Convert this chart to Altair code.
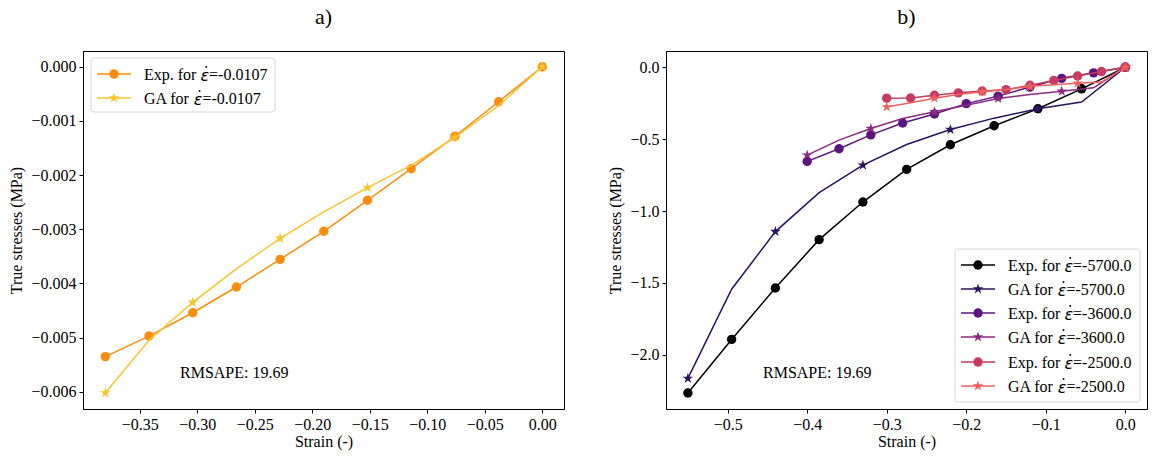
import altair as alt
import pandas as pd

FONT = "Liberation Serif"
MATH_FONT = "DejaVu Sans"

# ---------------- Panel a) data ----------------
a_strain = [-0.380, -0.342, -0.304, -0.266, -0.228, -0.190, -0.152, -0.114, -0.076, -0.038, 0.0]
a_exp = [-0.00535, -0.00497, -0.00454, -0.004065, -0.003554, -0.003037, -0.002465, -0.001882, -0.001284, -0.000646, 0.0]
a_ga = [-0.00602, -0.00505, -0.004347, -0.00373, -0.003166, -0.00268, -0.002232, -0.00182, -0.001303, -0.00072, 0.0]
a_rate = "-0.0107"

# ---------------- Panel b) data ----------------
b_strain_5700 = [-0.55, -0.495, -0.44, -0.385, -0.33, -0.275, -0.22, -0.165, -0.11, -0.055, 0.0]
b_exp_5700 = [-2.266, -1.893, -1.535, -1.199, -0.9375, -0.710, -0.539, -0.407, -0.289, -0.150, 0.0]
b_ga_5700 = [-2.164, -1.544, -1.143, -0.872, -0.681, -0.537, -0.433, -0.354, -0.289, -0.242, 0.0]

b_strain_3600 = [-0.40, -0.36, -0.32, -0.28, -0.24, -0.20, -0.16, -0.12, -0.08, -0.04, 0.0]
b_exp_3600 = [-0.655, -0.567, -0.470, -0.388, -0.325, -0.253, -0.201, -0.138, -0.077, -0.039, 0.0]
b_ga_3600 = [-0.611, -0.507, -0.426, -0.357, -0.310, -0.264, -0.217, -0.190, -0.167, -0.143, 0.0]

b_strain_2500 = [-0.30, -0.27, -0.24, -0.21, -0.18, -0.15, -0.12, -0.09, -0.06, -0.03, 0.0]
b_exp_2500 = [-0.215, -0.214, -0.195, -0.178, -0.165, -0.156, -0.125, -0.092, -0.061, -0.030, 0.0]
b_ga_2500 = [-0.276, -0.247, -0.215, -0.190, -0.171, -0.155, -0.133, -0.122, -0.112, -0.103, 0.0]

b_rates = ["-5700.0", "-3600.0", "-2500.0"]
rmsape_text = "RMSAPE: 19.69"

a_x_ticks = [-0.35, -0.30, -0.25, -0.20, -0.15, -0.10, -0.05, 0.0]
a_y_ticks = [0.0, -0.001, -0.002, -0.003, -0.004, -0.005, -0.006]
b_x_ticks = [-0.5, -0.4, -0.3, -0.2, -0.1, 0.0]
b_y_ticks = [0.0, -0.5, -1.0, -1.5, -2.0]

# colours
A_EXP = "#fd8c0e"
A_GA = "#f8c531"
B_COLORS = ["#000004", "#2a1260", "#5a167c", "#8c2981", "#c63b5f", "#f1605d"]

STAR = ("M0,-1L0.2234,-0.3074L0.9511,-0.309L0.3614,0.1174L0.5878,0.809L0,0.38"
        "L-0.5878,0.809L-0.3614,0.1174L-0.9511,-0.309L-0.2234,-0.3074Z")
MS = 88
STAR_MS = 125
FS = 16
EPS = "\u03b5"

# approximate advance widths (em) of the label prefixes in a Times-metric font
PREFIX_EM = {"Exp. for ": 3.527, "GA for ": 3.11}
EPS_EM = 0.54

W, H = 481, 358


def marker_size(shape):
    return MS if shape == "circle" else STAR_MS


def series(xs, ys, color, shape, X, Y, every=1):
    df = pd.DataFrame({"strain": xs, "stress": ys})
    line = alt.Chart(df).mark_line(color=color, strokeWidth=1.5).encode(x=X, y=Y)
    pts = alt.Chart(df.iloc[::every]).mark_point(
        filled=True, shape=shape, size=marker_size(shape), color=color, opacity=1, strokeWidth=0
    ).encode(x=X, y=Y)
    return [line, pts]


def txt(s, x, y, font=FONT, style="normal", align="left"):
    return alt.Chart(pd.DataFrame({"t": [s]})).mark_text(
        align=align, baseline="middle", font=font, fontSize=FS, fontStyle=style, color="black"
    ).encode(x=alt.value(x), y=alt.value(y), text="t:N")


def legend(entries, x0, x1, y0, y1, lx0, lx1, tx, ys):
    layers = [
        alt.Chart(pd.DataFrame({"k": [0]})).mark_rect(
            fill="white", fillOpacity=0.85, stroke="#d4d4d4", strokeWidth=1, cornerRadius=3
        ).encode(x=alt.value(x0), x2=alt.value(x1), y=alt.value(y0), y2=alt.value(y1))
    ]
    for (prefix, rate, color, shape), yy in zip(entries, ys):
        df = pd.DataFrame({"label": [prefix]})
        layers.append(alt.Chart(df).mark_rule(color=color, strokeWidth=1.5).encode(
            x=alt.value(lx0), x2=alt.value(lx1), y=alt.value(yy)))
        layers.append(alt.Chart(df).mark_point(
            filled=True, shape=shape, size=marker_size(shape), color=color, opacity=1, strokeWidth=0
        ).encode(x=alt.value((lx0 + lx1) / 2), y=alt.value(yy)))
        wp = PREFIX_EM[prefix] * FS
        we = EPS_EM * FS
        layers.append(txt(prefix, tx, yy + 1))
        layers.append(txt(EPS, tx + wp, yy + 2, font=MATH_FONT, style="italic"))
        layers.append(alt.Chart(df).mark_point(
            filled=True, shape="circle", size=3.5, color="black", opacity=1, strokeWidth=0
        ).encode(x=alt.value(tx + wp + we / 2 + 1.5), y=alt.value(yy - 7)))
        layers.append(txt("=" + rate, tx + wp + we, yy + 1))
    return layers


# ---------------- Panel a ----------------
Xa = alt.X("strain:Q", title="Strain (-)",
           scale=alt.Scale(domain=[-0.3994, 0.0189], nice=False, zero=False),
           axis=alt.Axis(values=a_x_ticks, format=".2f"))
Ya = alt.Y("stress:Q", title="True stresses (MPa)",
           scale=alt.Scale(domain=[-0.006316, 0.00029], nice=False, zero=False),
           axis=alt.Axis(values=a_y_ticks, format=".3f"))

a_layers = []
a_layers += series(a_strain, a_exp, A_EXP, "circle", Xa, Ya)
a_layers += series(a_strain, a_ga, A_GA, STAR, Xa, Ya, every=2)
a_layers += legend(
    [("Exp. for ", a_rate, A_EXP, "circle"), ("GA for ", a_rate, A_GA, STAR)],
    8, 192, 7, 61, 14, 48, 61, [23, 47])
a_layers.append(txt(rmsape_text, 97, 322))

TITLE_KW = dict(font=FONT, fontSize=22, fontWeight="normal", offset=22, color="black")
panel_a = alt.layer(*a_layers).properties(width=W, height=H,
                                          title=alt.TitleParams("a)", **TITLE_KW))

# ---------------- Panel b ----------------
Xb = alt.X("strain:Q", title="Strain (-)",
           scale=alt.Scale(domain=[-0.5775, 0.0272], nice=False, zero=False),
           axis=alt.Axis(values=b_x_ticks, format=".1f"))
Yb = alt.Y("stress:Q", title="True stresses (MPa)",
           scale=alt.Scale(domain=[-2.377, 0.113], nice=False, zero=False),
           axis=alt.Axis(values=b_y_ticks, format=".1f"))

b_layers = []
b_layers += series(b_strain_5700, b_exp_5700, B_COLORS[0], "circle", Xb, Yb)
b_layers += series(b_strain_5700, b_ga_5700, B_COLORS[1], STAR, Xb, Yb, every=2)
b_layers += series(b_strain_3600, b_exp_3600, B_COLORS[2], "circle", Xb, Yb)
b_layers += series(b_strain_3600, b_ga_3600, B_COLORS[3], STAR, Xb, Yb, every=2)
b_layers += series(b_strain_2500, b_exp_2500, B_COLORS[4], "circle", Xb, Yb)
b_layers += series(b_strain_2500, b_ga_2500, B_COLORS[5], STAR, Xb, Yb, every=2)

b_entries = []
for i, r in enumerate(b_rates):
    b_entries.append(("Exp. for ", r, B_COLORS[2 * i], "circle"))
    b_entries.append(("GA for ", r, B_COLORS[2 * i + 1], STAR))
b_layers += legend(b_entries, 289, 474, 198, 351, 295, 329, 342,
                   [214, 238, 262, 286, 311, 335])
b_layers.append(txt(rmsape_text, 97, 322))

panel_b = alt.layer(*b_layers).properties(width=W, height=H,
                                          title=alt.TitleParams("b)", **TITLE_KW))

chart = alt.hconcat(panel_a, panel_b, spacing=42).properties(
    padding={"left": 8, "top": 5, "right": 5, "bottom": 5},
    background="white",
).configure_view(
    stroke="black", strokeWidth=1
).configure_axis(
    grid=False, domainColor="black", domainWidth=1, tickColor="black", tickSize=4,
    labelFont=FONT, labelFontSize=FS, labelColor="black", labelPadding=3,
    titleFont=FONT, titleFontSize=FS, titleFontWeight="normal", titleColor="black",
).configure_axisX(titlePadding=1).configure_axisY(titlePadding=6)

chart.save("out.html", embed_options={"renderer": "svg", "actions": False})
